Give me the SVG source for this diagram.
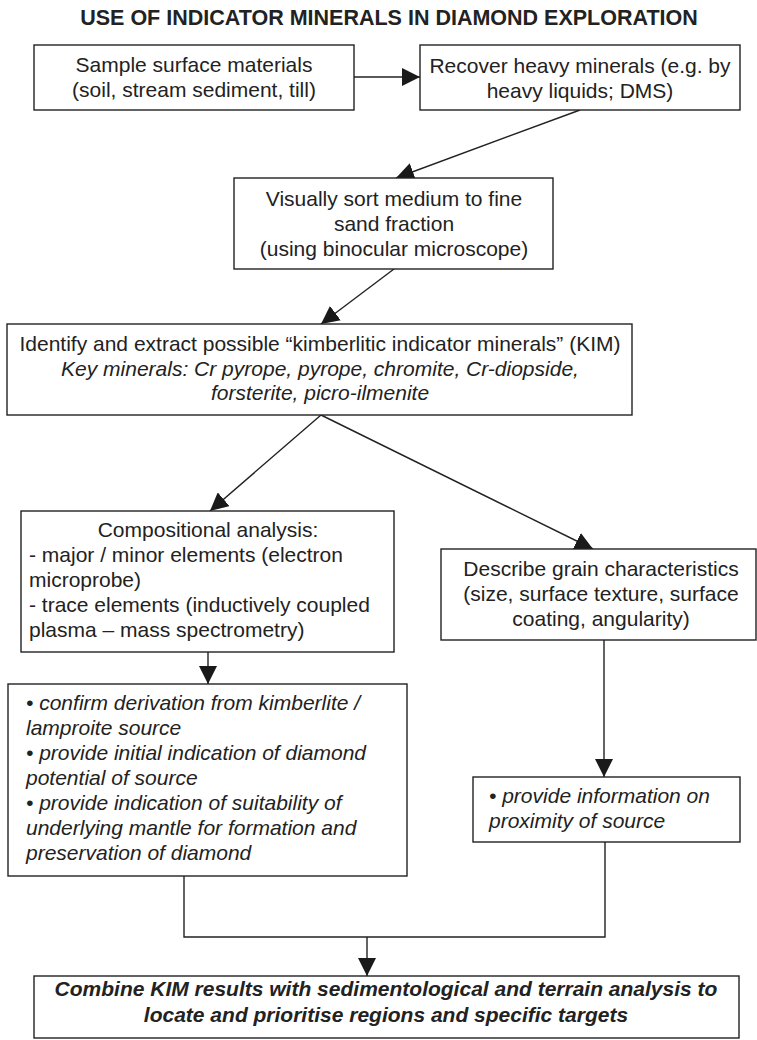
<svg xmlns="http://www.w3.org/2000/svg" width="757" height="1040" viewBox="0 0 757 1040">
<style>
  .box { fill: #ffffff; stroke: #222222; stroke-width: 1.4; }
  .t { font-family: "Liberation Sans", Arial, sans-serif; font-size: 21px; fill: #222222; }
  .c { text-anchor: middle; }
  .i { font-style: italic; }
  .b { font-weight: bold; }
  .ttl { font-size: 21.5px; }
  .ln { fill: none; stroke: #222222; stroke-width: 1.4; }
</style>
<defs>
  <marker id="ah" markerUnits="userSpaceOnUse" markerWidth="18" markerHeight="18" refX="18" refY="9" orient="auto">
    <path d="M0,0 L18,9 L0,18 Z" fill="#1a1a1a"/>
  </marker>
</defs>
<rect width="757" height="1040" fill="#ffffff"/>
<text class="t c b ttl" x="389" y="25">USE OF INDICATOR MINERALS IN DIAMOND EXPLORATION</text>

<g id="connectors">
  <line class="ln" x1="354" y1="77" x2="420" y2="77" marker-end="url(#ah)"/>
  <line class="ln" x1="580" y1="110" x2="396" y2="178" marker-end="url(#ah)"/>
  <line class="ln" x1="394" y1="269" x2="321" y2="324" marker-end="url(#ah)"/>
  <line class="ln" x1="321" y1="415" x2="210" y2="511" marker-end="url(#ah)"/>
  <line class="ln" x1="321" y1="415" x2="593" y2="549" marker-end="url(#ah)"/>
  <line class="ln" x1="208" y1="652" x2="208" y2="684" marker-end="url(#ah)"/>
  <line class="ln" x1="604" y1="640" x2="604" y2="777" marker-end="url(#ah)"/>
  <polyline class="ln" points="184,876 184,937 605,937 605,842"/>
  <line class="ln" x1="367" y1="937" x2="367" y2="976" marker-end="url(#ah)"/>
</g>

<g id="n1">
  <rect class="box" x="34" y="45" width="320" height="65"/>
  <text class="t c" x="194" y="72">Sample surface materials</text>
  <text class="t c" x="194" y="97">(soil, stream sediment, till)</text>
</g>
<g id="n2">
  <rect class="box" x="420" y="45" width="320" height="65"/>
  <text class="t c" x="580" y="73">Recover heavy minerals (e.g. by</text>
  <text class="t c" x="580" y="98">heavy liquids; DMS)</text>
</g>
<g id="n3">
  <rect class="box" x="234" y="178" width="319" height="91"/>
  <text class="t c" x="394" y="206">Visually sort medium to fine</text>
  <text class="t c" x="394" y="231">sand fraction</text>
  <text class="t c" x="394" y="256">(using binocular microscope)</text>
</g>
<g id="n4">
  <rect class="box" x="7" y="324" width="625" height="91"/>
  <text class="t c" x="320" y="351">Identify and extract possible “kimberlitic indicator minerals” (KIM)</text>
  <text class="t c i" x="320" y="376">Key minerals: Cr pyrope, pyrope, chromite, Cr-diopside,</text>
  <text class="t c i" x="320" y="400">forsterite, picro-ilmenite</text>
</g>
<g id="n5">
  <rect class="box" x="21" y="511" width="373" height="141"/>
  <text class="t c" x="208" y="537">Compositional analysis:</text>
  <text class="t" x="29" y="562">- major / minor elements (electron</text>
  <text class="t" x="29" y="587">microprobe)</text>
  <text class="t" x="29" y="612">- trace elements (inductively coupled</text>
  <text class="t" x="29" y="637">plasma – mass spectrometry)</text>
</g>
<g id="n6">
  <rect class="box" x="441" y="549" width="315" height="91"/>
  <text class="t c" x="601" y="576">Describe grain characteristics</text>
  <text class="t c" x="601" y="601">(size, surface texture, surface</text>
  <text class="t c" x="601" y="626">coating, angularity)</text>
</g>
<g id="n7">
  <rect class="box" x="8" y="684" width="399" height="192"/>
  <text class="t i" x="26" y="710">• confirm derivation from kimberlite /</text>
  <text class="t i" x="26" y="735">lamproite source</text>
  <text class="t i" x="26" y="760">• provide initial indication of diamond</text>
  <text class="t i" x="26" y="785">potential of source</text>
  <text class="t i" x="26" y="810">• provide indication of suitability of</text>
  <text class="t i" x="26" y="835">underlying mantle for formation and</text>
  <text class="t i" x="26" y="860">preservation of diamond</text>
</g>
<g id="n8">
  <rect class="box" x="473" y="777" width="267" height="65"/>
  <text class="t i" x="489" y="803">• provide information on</text>
  <text class="t i" x="489" y="828">proximity of source</text>
</g>
<g id="n9">
  <rect class="box" x="34" y="976" width="705" height="62"/>
  <text class="t c i b" x="386" y="996">Combine KIM results with sedimentological and terrain analysis to</text>
  <text class="t c i b" x="386" y="1022">locate and prioritise regions and specific targets</text>
</g>
</svg>
